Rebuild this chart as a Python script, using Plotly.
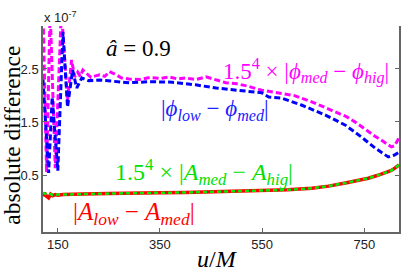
import plotly.graph_objects as go

# ---- data (values in units of 1e-7) ----
u_phi_hig = [121, 128, 135, 145, 157, 169, 177, 183, 189, 194, 199, 206, 215, 224, 232, 242, 251,
             262, 275, 290, 310, 330, 350, 368, 385, 400, 420, 440, 460, 479, 500, 520, 549, 582,
             612, 647, 670, 693, 715, 732, 745, 758, 771, 783, 795, 803, 809, 813, 818]
phi_hig = [3.6, 0.55, 3.6, 0.63, 3.6, 1.9, 2.67, 2.35, 2.44, 2.36, 2.48, 2.42, 2.34, 2.37, 2.39, 2.36, 2.45,
           2.40, 2.33, 2.31, 2.30, 2.34, 2.32, 2.35, 2.31, 2.33, 2.30, 2.35, 2.30, 2.24, 2.22, 2.18, 2.10, 2.05,
           2.00, 1.88, 1.79, 1.69, 1.60, 1.50, 1.41, 1.31, 1.23, 1.16, 1.08, 1.03, 1.05, 1.12, 1.20]

u_phi_low = [121, 132, 139, 150, 160, 169, 179, 187, 197, 210, 232, 260, 290, 330, 374, 420, 460,
             500, 549, 563, 588, 627, 674, 713, 744, 771, 797, 810, 818]
phi_low = [2.3, 0.54, 1.97, 0.58, 3.2, 1.78, 2.48, 2.14, 2.33, 2.28, 2.29, 2.27, 2.24, 2.26, 2.25, 2.20, 2.14,
           2.10, 2.05, 1.97, 1.95, 1.82, 1.63, 1.44, 1.22, 1.01, 0.84, 0.88, 0.93]

u_amp = [121, 124, 128, 132, 136, 140, 145, 150, 160, 180, 200, 250, 290, 350, 400, 450, 500, 549,
         600, 647, 680, 713, 740, 758, 775, 791, 802, 810, 818]
amp_low = [0.10, 0.16, 0.10, 0.07, 0.14, 0.11, 0.13, 0.12, 0.13, 0.13, 0.14, 0.15, 0.16, 0.165, 0.17,
           0.18, 0.19, 0.20, 0.22, 0.25, 0.29, 0.35, 0.40, 0.44, 0.49, 0.54, 0.58, 0.63, 0.69]
amp_hig = [0.17, 0.15, 0.13, 0.14, 0.14, 0.12, 0.13, 0.13, 0.13, 0.13, 0.14, 0.15, 0.16, 0.165, 0.17,
           0.18, 0.19, 0.20, 0.22, 0.25, 0.29, 0.35, 0.40, 0.44, 0.49, 0.54, 0.58, 0.63, 0.69]

x_ticks = [150, 350, 550, 750]
y_ticks = [0.5, 1.5, 2.5]

fig = go.Figure()
fig.add_trace(go.Scatter(x=u_phi_hig, y=phi_hig, mode="lines",
                         line=dict(color="#ff00ff", width=3, dash="6px,3px")))
fig.add_trace(go.Scatter(x=u_phi_low, y=phi_low, mode="lines",
                         line=dict(color="#0000ff", width=3, dash="6px,3px")))
fig.add_trace(go.Scatter(x=u_amp, y=amp_low, mode="lines",
                         line=dict(color="#ff0000", width=3.5)))
fig.add_trace(go.Scatter(x=u_amp, y=amp_hig, mode="lines",
                         line=dict(color="#00ee00", width=2.5, dash="4px,3px")))

L, R, T, B = 43, 401, 26, 232
W, H = 407, 276


def xp(px):
    return (px - L) / (R - L)


def yp(py):
    return (B - py) / (B - T)


serif = "Liberation Serif"
sans = "Liberation Sans"

ann = [
    dict(text="<i>â</i> = 0.9", x=xp(139), y=yp(49), size=23, color="black"),
    dict(text="1.5<sup>4</sup> × |<i>ϕ</i><sub><i>med</i></sub> − <i>ϕ</i><sub><i>hig</i></sub>|",
         x=xp(307), y=yp(71), size=23, color="#ff00ff"),
    dict(text="|<i>ϕ</i><sub><i>low</i></sub> − <i>ϕ</i><sub><i>med</i></sub>|",
         x=xp(216), y=yp(110), size=23, color="#2020ff"),
    dict(text="1.5<sup>4</sup> × |<i>A</i><sub><i>med</i></sub> − <i>A</i><sub><i>hig</i></sub>|",
         x=xp(205), y=yp(172), size=24, color="#00e000"),
    dict(text="|<i>A</i><sub><i>low</i></sub> − <i>A</i><sub><i>med</i></sub>|",
         x=xp(135), y=yp(213), size=25, color="#ff0000"),
    dict(text="<i>u</i>/<i>M</i>", x=xp(218), y=yp(259), size=24, color="black"),
]
annotations = [dict(text=a["text"], x=a["x"], y=a["y"], xref="paper", yref="paper",
                    xanchor="center", yanchor="middle", showarrow=False,
                    font=dict(family=serif, size=a["size"], color=a["color"])) for a in ann]
annotations.append(dict(text="absolute difference", x=xp(11.5), y=yp(135), xref="paper", yref="paper",
                        xanchor="center", yanchor="middle", showarrow=False, textangle=-90,
                        height=20, borderpad=0,
                        font=dict(family=serif, size=23.5, color="black")))
annotations.append(dict(text="x 10<sup>-7</sup>", x=xp(42), y=yp(17), xref="paper", yref="paper",
                        xanchor="left", yanchor="middle", showarrow=False,
                        font=dict(family=sans, size=13, color="#222")))

fig.update_layout(
    width=W, height=H,
    margin=dict(l=L, r=W - R, t=T, b=H - B, pad=0),
    paper_bgcolor="white", plot_bgcolor="white",
    showlegend=False,
    annotations=annotations,
    xaxis=dict(range=[121, 818], tickvals=x_ticks, ticktext=[str(v) for v in x_ticks],
               ticks="inside", ticklen=4, tickcolor="#666", tickwidth=1,
               showline=True, linecolor="#666", linewidth=1.5, mirror=False,
               showgrid=False, zeroline=False,
               tickfont=dict(family=sans, size=13, color="#222")),
    yaxis=dict(range=[-0.575, 3.31], tickvals=y_ticks, ticktext=[str(v) for v in y_ticks],
               ticks="inside", ticklen=4, tickcolor="#666", tickwidth=1,
               showline=True, linecolor="#666", linewidth=1.5, mirror="ticks",
               showgrid=False, zeroline=False,
               tickfont=dict(family=sans, size=13, color="#222")),
)

fig.write_html("out.html", config={"displayModeBar": False},
               post_script="document.body.style.margin='0';")
